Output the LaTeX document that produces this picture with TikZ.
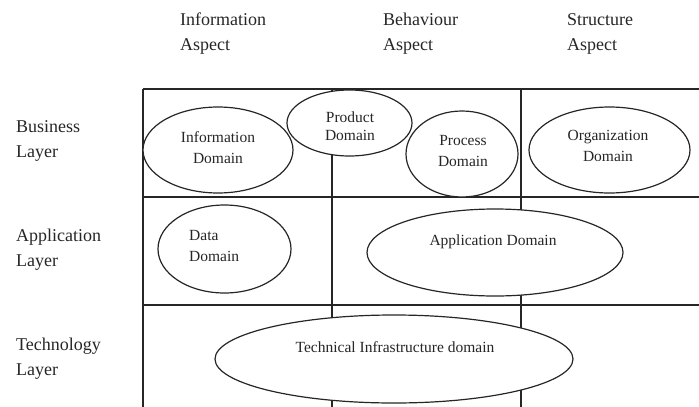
\documentclass[tikz,border=0pt]{standalone}
\usepackage{fontspec}
\setmainfont{Liberation Serif}
\usetikzlibrary{shapes.geometric}
\definecolor{ink}{HTML}{262626}
\tikzset{
  grid line/.style={draw=ink, line width=1.3pt},
  dom/.style={ellipse, draw=ink, line width=1.2pt, fill=white, inner sep=0pt},
  hdr/.style={text=ink, anchor=west, inner sep=0pt, font=\fontsize{18}{25}\selectfont, align=left},
  dtext/.style={text=ink, inner sep=0pt, font=\fontsize{15.5}{21}\selectfont, align=center},
}
\begin{document}
\begin{tikzpicture}[x=1pt,y=-1pt]
\useasboundingbox (0,0) rectangle (699,407);
% grid
\coordinate (tl) at (143,89);
\draw[grid line] (143,89) -- (699,89);
\draw[grid line] (143,197) -- (699,197);
\draw[grid line] (143,305) -- (699,305);
\draw[grid line] (143,89) -- (143,407);
\draw[grid line] (332,89) -- (332,407);
\draw[grid line] (521,89) -- (521,407);
% headers
\node[hdr] (hinfo) at (180,34) {Information\\Aspect};
\node[hdr] (hbeh) at (383,34) {Behaviour\\Aspect};
\node[hdr] (hstr) at (567,34) {Structure\\Aspect};
\node[hdr] (lbus) at (16,141) {Business\\Layer};
\node[hdr] (lapp) at (16,249.5) {Application\\Layer};
\node[hdr] (ltec) at (16,358.5) {Technology\\Layer};
% ellipses
\node[dom, minimum width=150pt, minimum height=86pt] (einfo) at (218,150) {};
\node[dom, minimum width=125pt, minimum height=66pt] (eprod) at (349.5,123) {};
\node[dom, minimum width=112pt, minimum height=86pt] (eproc) at (462,154) {};
\node[dom, minimum width=161pt, minimum height=86pt] (eorg) at (609.5,150) {};
\node[dom, minimum width=133pt, minimum height=88pt] (edata) at (224.5,249) {};
\node[dom, minimum width=256pt, minimum height=87pt] (eapp) at (495,252.5) {};
\node[dom, minimum width=358pt, minimum height=88pt] (etech) at (394,359) {};
% texts
\node[dtext] (tinfo) at (218,147.5) {Information\\Domain};
\node[dtext, font=\fontsize{15.5}{18}\selectfont] (tprod) at (350,126) {Product\\Domain};
\node[dtext] (tproc) at (463,151) {Process\\Domain};
\node[dtext] (torg) at (608,146) {Organization\\Domain};
\node[dtext, anchor=west, align=left] (tdata) at (189,246) {Data\\Domain};
\node[dtext] (tapp) at (493,242) {Application Domain};
\node[dtext] (ttech) at (395,347) {Technical Infrastructure domain};
\end{tikzpicture}
\end{document}
